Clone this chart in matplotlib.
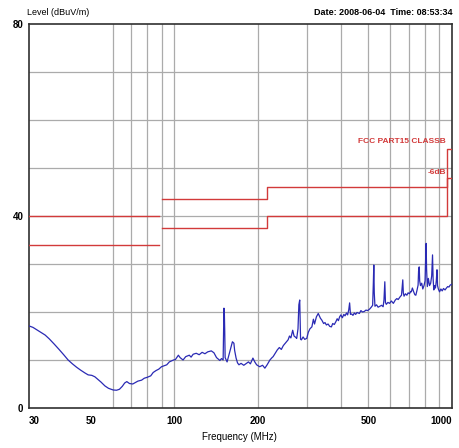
import matplotlib
matplotlib.use("Agg")
import matplotlib.pyplot as plt
import matplotlib.ticker as mticker

# ── Data ─────────────────────────────────────────────────────────────────────
FREQ = [30, 31, 32, 33, 34.3, 35.5, 37, 38.5, 40, 41.5, 43, 44.5, 46, 47.7, 49, 50.5,
        51.8, 53, 54.5, 56.3, 58, 60.3, 62, 63.5, 65, 66.3, 67.5, 69, 70.9, 72.5, 74,
        76.3, 78, 80, 82.3, 84, 86, 88, 90, 92, 94, 96, 99.4, 101, 103.5, 105, 107.6,
        110, 113.3, 115, 117, 120, 123, 126, 129, 132, 136, 139, 142, 146, 148, 150,
        150.5, 151, 151.5, 152, 152.5, 155, 158, 160, 162, 164, 165, 167, 169, 171,
        174, 178, 182, 185, 188, 192, 195, 198, 203, 208, 212, 216, 221, 225, 227,
        231, 235, 239, 243, 247, 252, 257, 260, 263, 267, 270, 274, 276, 279, 281,
        283, 284, 285, 287, 291, 295, 300, 304, 308, 313, 317, 320, 325, 330, 333,
        336, 340, 345, 349, 353, 358, 363, 368, 372, 377, 382, 386, 390, 394, 398,
        403, 408, 412, 417, 421, 425, 428, 431, 435, 440, 445, 450, 455, 464, 470,
        476, 483, 490, 497, 505, 512, 518, 521, 523, 525, 528, 535, 542, 550, 558,
        565, 569, 573, 576, 580, 588, 596, 605, 615, 625, 633, 640, 651, 658, 662,
        665, 668, 672, 680, 688, 695, 703, 710, 714, 720, 728, 735, 741, 748, 755,
        758, 762, 765, 770, 778, 785, 793, 800, 804, 807, 810, 815, 822, 830, 838,
        845, 849, 851, 855, 860, 866, 872, 878, 883, 887, 893, 902, 912, 922, 932,
        944, 955, 965, 975, 985, 1000]
LEVEL = [17.1, 16.8, 16.3, 15.8, 15.2, 14.4, 13.3, 12.2, 11.1, 10.0, 9.2, 8.5, 7.9, 7.3,
         6.9, 6.8, 6.5, 6.0, 5.4, 4.6, 4.1, 3.75, 3.7, 3.9, 4.5, 5.2, 5.5, 5.1, 5.0, 5.3,
         5.6, 5.8, 6.2, 6.4, 6.7, 7.4, 7.8, 8.1, 8.6, 8.8, 9.0, 9.6, 10.0, 10.1, 11.0,
         10.5, 10.0, 10.7, 11.0, 10.6, 11.2, 11.4, 11.1, 11.6, 11.3, 11.7, 11.9, 11.5,
         10.5, 9.9, 10.3, 10.0, 15.0, 20.8, 20.0, 16.0, 10.5, 9.6, 11.4, 12.5, 13.8,
         13.5, 12.0, 10.4, 9.4, 9.0, 9.3, 8.9, 9.3, 9.6, 9.2, 10.4, 9.6, 9.0, 8.6, 8.9,
         8.3, 9.0, 10.0, 10.5, 10.7, 11.4, 12.1, 12.6, 12.2, 13.0, 13.6, 14.2, 15.0,
         14.6, 16.2, 15.0, 14.7, 14.5, 16.5, 21.5, 22.5, 18.0, 14.3, 14.2, 14.8, 14.3,
         14.5, 15.8, 16.5, 16.9, 18.5, 17.5, 19.0, 19.7, 19.2, 18.7, 18.3, 17.6, 17.8,
         17.3, 17.5, 17.0, 16.9, 17.6, 17.4, 18.0, 18.6, 18.2, 19.0, 19.4, 18.8, 19.5,
         19.2, 19.8, 19.4, 20.5, 21.9, 19.5, 19.6, 19.3, 19.8, 19.5, 19.9, 19.7, 20.3,
         20.0, 20.1, 20.4, 20.3, 20.6, 21.0, 21.4, 26.0, 29.8, 24.0, 21.2, 21.5, 21.0,
         21.2, 21.4, 21.1, 22.5, 26.3, 22.0, 21.6, 22.0, 21.8, 22.3, 21.8, 22.5, 22.8,
         22.6, 23.2, 23.5, 25.5, 26.7, 24.0, 23.3, 23.8, 23.5, 24.0, 23.8, 24.3, 24.2,
         25.0, 24.2, 23.6, 23.5, 24.5, 25.6, 28.5, 29.4, 26.5, 25.5, 26.0, 24.8, 25.5,
         26.5, 31.5, 34.3, 29.0, 25.3, 27.0, 25.5, 26.0, 27.5, 30.5, 31.9, 27.0, 24.6,
         25.5, 25.0, 26.5, 28.8, 25.5, 24.8, 24.2, 24.8, 24.4, 24.9, 24.6, 25.0, 25.3,
         25.2, 25.6, 25.8]

LIMIT_F = [30, 88, 216, 960, 1000]        # FCC Part 15 Class B band edges (MHz)
LIMIT_L = [40, 43.5, 46, 54]              # limit per band (dBuV/m)
MARGIN = 6

XTICKS = [30, 50, 100, 200, 500, 1000]
YTICKS = [0, 40, 80]
XGRID = [60, 70, 80, 90, 100, 200, 300, 400, 500, 600, 700, 800, 900]
YGRID = [10, 20, 30, 40, 50, 60, 70]

RED = "#d23a3a"
BLUE = "#2a2ab4"
GRID = "#ababab"
FONT = ["Liberation Sans", "DejaVu Sans"]

plt.rcParams["font.family"] = FONT

fig = plt.figure(figsize=(4.6, 4.48), dpi=100, facecolor="white")
ax = fig.add_axes([0.063, 0.0893, 0.9196, 0.857])

ax.set_xscale("log")
ax.set_xlim(30, 1000)
ax.set_ylim(0, 80)

for f in XGRID:
    ax.axvline(f, color=GRID, lw=0.9, zorder=1)
for l in YGRID:
    ax.axhline(l, color=GRID, lw=0.9, zorder=1)

# limit lines
for off in (0, MARGIN):
    lv = [v - off for v in LIMIT_L]
    ax.plot(LIMIT_F[:2], [lv[0], lv[0]], color=RED, lw=1.0, zorder=3)
    xs = [LIMIT_F[1] * 1.03, LIMIT_F[2], LIMIT_F[2], LIMIT_F[3], LIMIT_F[3], LIMIT_F[4]]
    ys = [lv[1], lv[1], lv[2], lv[2], lv[3], lv[3]]
    ax.plot(xs, ys, color=RED, lw=1.0, zorder=3)

ax.text(950, 55.6, "FCC PART15 CLASSB", color=RED, fontsize=6,
        ha="right", va="center", fontweight="bold")
ax.text(950, 49, "-6dB", color=RED, fontsize=6, ha="right", va="center",
        fontweight="bold")

ax.plot(FREQ, LEVEL, color=BLUE, lw=0.9, zorder=4)

ax.xaxis.set_major_locator(mticker.FixedLocator(XTICKS))
ax.xaxis.set_minor_locator(mticker.NullLocator())
ax.xaxis.set_major_formatter(mticker.FixedFormatter([str(t) for t in XTICKS]))
ax.set_yticks(YTICKS)
ax.tick_params(axis="both", length=0, labelsize=7)
ax.tick_params(axis="x", pad=6)
ax.tick_params(axis="y", pad=4)
for lab in ax.get_xticklabels() + ax.get_yticklabels():
    lab.set_fontweight("bold")
xl = ax.get_xticklabels()
xl[0].set_ha("left")
xl[-1].set_ha("right")

for s in ax.spines.values():
    s.set_color("#303030")
    s.set_linewidth(1.2)

fig.text(0.059, 0.973, "Level (dBuV/m)", fontsize=6.5, ha="left", va="center")
fig.text(0.983, 0.973, "Date: 2008-06-04  Time: 08:53:34", fontsize=6.5,
         ha="right", va="center", fontweight="bold")
fig.text(0.52, 0.025, "Frequency (MHz)", fontsize=7, ha="center", va="center")

fig.savefig("out.png", dpi=100, facecolor="white")
